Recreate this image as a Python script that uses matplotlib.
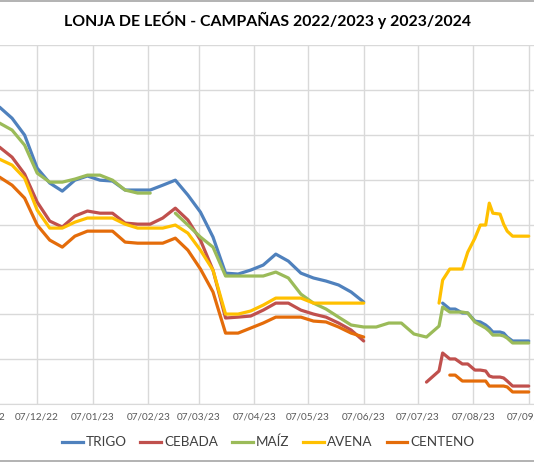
import matplotlib
matplotlib.use('Agg')
import matplotlib.pyplot as plt
import matplotlib.dates as mdates
import numpy as np
from datetime import date
from matplotlib.lines import Line2D

# ---------------- DATA ----------------
fechas_txt = [
    '2022-11-16', '2022-11-23', '2022-11-30', '2022-12-07', '2022-12-14', '2022-12-21',
    '2022-12-28', '2023-01-04', '2023-01-11', '2023-01-18', '2023-01-25', '2023-02-01',
    '2023-02-08', '2023-02-15', '2023-02-22', '2023-03-01', '2023-03-08', '2023-03-15',
    '2023-03-22', '2023-03-29', '2023-04-05', '2023-04-12', '2023-04-19', '2023-04-26',
    '2023-05-03', '2023-05-10', '2023-05-17', '2023-05-24', '2023-05-31', '2023-06-07',
    '2023-06-14', '2023-06-21', '2023-06-28', '2023-07-05', '2023-07-12', '2023-07-19',
    # campaña 2023/2024
    '2023-07-21', '2023-07-25', '2023-07-28', '2023-08-01', '2023-08-04', '2023-08-08',
    '2023-08-11', '2023-08-14', '2023-08-16', '2023-08-18', '2023-08-22', '2023-08-24',
    '2023-08-26', '2023-08-29', '2023-09-01', '2023-09-07',
]

N = None
trigo = [315.4, 309.2, 299.8, 281.4, 273.1, 268.6, 274.7, 277.0, 274.7, 274.2, 269.2, 269.2,
         269.2, 271.9, 274.7, 266.4, 256.9, 243.0, 222.9, 222.4, 224.6, 227.4, 233.5, 229.6,
         222.9, 220.2, 218.5, 216.3, 212.4, 206.8, N, N, N, N, N, N,
         206.2, 202.9, 202.9, 200.7, 200.7, 196.2, 195.7, 194.0, 192.3, 190.1, 190.1, 189.5,
         187.3, 185.1, 185.1, 185.1]

cebada = [293.1, 287.5, 278.1, 262.5, 251.9, 248.6, 254.7, 257.5, 256.3, 256.3, 250.8, 250.2,
          250.2, 253.6, 259.1, 252.5, 241.3, 224.6, 197.9, 198.4, 199.0, 202.3, 206.2, 206.2,
          202.3, 200.1, 198.4, 195.1, 191.2, 185.1, N, N, N, N, 162.2, 168.4,
          178.4, 175.1, 175.1, 172.3, 172.3, 168.9, 168.9, 168.4, 165.6, 165.0, 165.0, 164.5,
          162.8, 160.0, 160.0, 160.0]

maiz = [306.5, 302.6, 294.2, 278.6, 273.6, 273.6, 275.3, 277.5, 277.5, 274.7, 269.2, 267.5,
        267.5, N, 256.3, 249.7, 243.0, 237.4, 221.3, 221.3, 221.3, 221.3, 223.5, 220.2,
        211.2, 206.2, 202.9, 198.4, 194.0, 192.9, 192.9, 195.1, 195.1, 189.0, 187.3, 193.4,
        204.0, 201.2, 201.2, 201.2, 200.7, 195.7, 194.0, 192.3, 190.6, 188.4, 188.4, 187.9,
        186.7, 184.0, 184.0, 184.0]

avena = [286.4, 283.1, 275.8, 258.0, 248.0, 248.0, 251.3, 253.6, 253.6, 253.6, 250.2, 248.0,
         248.0, 248.0, 249.7, 245.2, 235.7, 224.6, 200.1, 200.1, 201.8, 205.1, 209.0, 209.0,
         209.0, 206.2, 206.2, 206.2, 206.2, 206.2, N, N, N, N, N, 206.2,
         219.0, 225.2, 225.2, 225.2, 234.6, 242.4, 249.7, 249.7, 261.9, 256.3, 255.8, 250.2,
         246.3, 243.5, 243.5, 243.5]

centeno = [276.4, 271.9, 264.7, 249.7, 241.3, 237.4, 243.5, 246.3, 246.3, 246.3, 240.2, 239.6,
           239.6, 239.6, 242.4, 235.7, 225.2, 212.4, 189.5, 189.5, 192.3, 195.1, 198.4, 198.4,
           198.4, 196.2, 195.7, 192.9, 189.5, 187.3, N, N, N, N, N, N,
           N, 166.1, 166.1, 162.8, 162.8, 162.8, 162.8, 162.8, 160.0, 160.0, 160.0, 160.0,
           159.5, 156.7, 156.7, 156.7]

series_nombres = ['TRIGO', 'CEBADA', 'MAÍZ', 'AVENA', 'CENTENO']
series_valores = [trigo, cebada, maiz, avena, centeno]
series_colores = ['#4F81BD', '#C0504D', '#9BBB59', '#FFC000', '#E46C0A']

titulo = 'LONJA DE LEÓN - CAMPAÑAS 2022/2023 y 2023/2024'

# ---------------- PLOT ----------------
W, H = 534, 462
fig = plt.figure(figsize=(W / 100, H / 100), dpi=100)

# plot area in pixels (top-down): the left part lies outside the crop, as in the reference
left_px, right_px, top_px, bot_px = -27.4, 539.5, 45, 404
ax = fig.add_axes([left_px / W, 1 - bot_px / H, (right_px - left_px) / W, (bot_px - top_px) / H])

fechas = [date.fromisoformat(s) for s in fechas_txt]
for nombre, vals, col in zip(series_nombres, series_valores, series_colores):
    y = np.array([np.nan if v is None else v for v in vals], dtype=float)
    ax.plot(fechas, y, color=col, lw=2.3, label=nombre,
            solid_joinstyle='round', solid_capstyle='round')

ax.set_xlim(date(2022, 11, 1), date(2023, 9, 13))
ax.set_ylim(150, 350)
ax.set_yticks(np.arange(150, 351, 25))
ax.set_yticklabels([])
ax.xaxis.set_major_locator(mdates.MonthLocator(bymonthday=7))
ax.xaxis.set_major_formatter(mdates.DateFormatter('%d/%m/%y'))

ax.grid(True, color='#D9D9D9', lw=1.0)
ax.set_axisbelow(True)
for s in ['top', 'right', 'left']:
    ax.spines[s].set_visible(False)
ax.spines['bottom'].set_color('#D9D9D9')
ax.tick_params(axis='both', length=0, labelsize=7.2, colors='#595959', pad=6)
for lab in ax.get_xticklabels():
    lab.set_fontfamily('Lato')

fig.text(0.5, 1 - 20 / H, titulo, ha='center', va='center', fontsize=11.4,
         fontweight='bold', family='Lato', color='#000000')

handles = [Line2D([0], [0], color=c, lw=2.3) for c in series_colores]
leg = fig.legend(handles, series_nombres, loc='center', bbox_to_anchor=(268 / W, 1 - 442 / H),
                 ncol=5, frameon=False, handlelength=1.55, handletextpad=0.2,
                 columnspacing=1.05, prop={'family': 'Lato', 'size': 9.7})
for t in leg.get_texts():
    t.set_color('#404040')

# chart border lines (top and bottom)
fig.add_artist(Line2D([0, 1], [1 - 0.5 / H, 1 - 0.5 / H], color='#A6A6A6', lw=1.2,
                      transform=fig.transFigure))
fig.add_artist(Line2D([0, 1], [1 - 461 / H, 1 - 461 / H], color='#A6A6A6', lw=1.2,
                      transform=fig.transFigure))

fig.savefig('out.png', dpi=100)
